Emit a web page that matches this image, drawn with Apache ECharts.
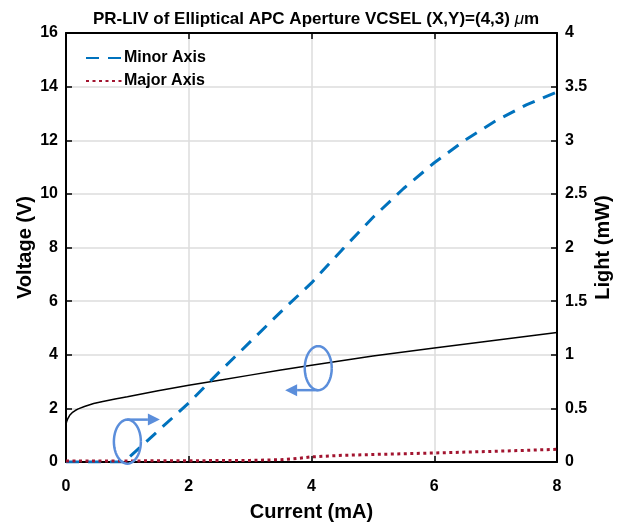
<!DOCTYPE html>
<html>
<head>
<meta charset="utf-8">
<script src="https://cdn.jsdelivr.net/npm/echarts@6/dist/echarts.min.js"></script>
<style>
  html, body { margin: 0; padding: 0; background: #fff; }
  #chart { width: 626px; height: 523px; }
</style>
</head>
<body>
<div id="chart"></div>
<script>
// voltage (left axis)
var ivCurrent = [0, 0.01, 0.03, 0.06, 0.1, 0.15, 0.2, 0.3, 0.45, 0.6, 0.8, 1, 1.5, 2, 2.5, 3, 3.5, 4, 5, 6, 7, 8];
var ivVoltage = [1.42, 1.5, 1.62, 1.74, 1.84, 1.92, 1.98, 2.07, 2.18, 2.26, 2.35, 2.43, 2.66, 2.86, 3.05, 3.24, 3.43, 3.61, 3.95, 4.25, 4.54, 4.83];

// light (right axis)
var minorCurrent = [0, 0.5, 0.92, 1, 1.5, 2, 2.5, 3, 3.5, 4, 4.5, 5, 5.5, 6, 6.5, 7, 7.5, 8];
var minorLight = [0, 0, 0, 0.03, 0.29, 0.55, 0.84, 1.12, 1.4, 1.67, 1.98, 2.28, 2.55, 2.79, 3.0, 3.18, 3.33, 3.45];
var majorCurrent = [0, 1, 2, 3, 3.5, 3.8, 4, 4.5, 5, 6, 7, 8];
var majorLight = [0.01, 0.01, 0.012, 0.015, 0.022, 0.035, 0.048, 0.062, 0.07, 0.084, 0.1, 0.118];

// annotation loops: [centre current, centre voltage, arrow tip current, side (1 = top, -1 = bottom)]
var loops = [[1.0, 0.76, 1.53, 1], [4.11, 3.5, 3.57, -1]];

function pairs(xs, ys) {
    var res = [];
    for (var i = 0; i < xs.length; i++) {
        res.push([xs[i], ys[i]]);
    }
    return res;
}

var font = "Liberation Sans, Arial, sans-serif";
var loopColor = "#5b8edb";

function renderLoop(params, api) {
    var c = api.coord([api.value(0), api.value(1)]);
    var tipX = api.coord([api.value(2), api.value(1)])[0];
    var side = api.value(3);
    var rx = 13.5, ry = 22;
    var pts = [];
    for (var k = 0; k <= 48; k++) {
        var a = k / 48 * Math.PI * 2;
        pts.push([c[0] + rx * Math.cos(a), c[1] + ry * Math.sin(a)]);
    }
    var ay = c[1] - side * ry;
    var dir = tipX > c[0] ? 1 : -1;
    var headLen = 12, headW = 6;
    return {
        type: "group",
        children: [
            { type: "polyline", shape: { points: pts }, style: { stroke: loopColor, lineWidth: 2.5, fill: null } },
            { type: "line", shape: { x1: c[0], y1: ay, x2: tipX - dir * headLen, y2: ay }, style: { stroke: loopColor, lineWidth: 2.5 } },
            { type: "polygon", shape: { points: [[tipX, ay], [tipX - dir * headLen, ay - headW], [tipX - dir * headLen, ay + headW]] }, style: { fill: loopColor } }
        ]
    };
}

var chart = echarts.init(document.getElementById("chart"));

var axisLabel = { color: "#000", fontWeight: "bold", fontSize: 16, fontFamily: font };
var nameStyle = { color: "#000", fontWeight: "bold", fontSize: 20, fontFamily: font };
var gridLine = { show: true, lineStyle: { color: "#dcdcdc", width: 1.5 } };
var boxLine = { show: true, onZero: false, lineStyle: { color: "#000", width: 2 } };
var tick = { inside: true, length: 6, lineStyle: { color: "#000", width: 1.5 } };

chart.setOption({
    animation: false,
    backgroundColor: "#fff",
    title: {
        text: "PR-LIV of Elliptical APC Aperture VCSEL (X,Y)=(4,3) {i|μ}m",
        left: 311,
        textAlign: "center",
        top: 6,
        textStyle: {
            color: "#000", fontWeight: "bold", fontSize: 17, fontFamily: font,
            rich: { i: { fontStyle: "italic", fontWeight: "normal", fontSize: 17, fontFamily: font } }
        }
    },
    legend: {
        orient: "vertical",
        left: 80,
        top: 45,
        itemWidth: 38,
        itemHeight: 10,
        itemGap: 7,
        data: ["Minor Axis", "Major Axis"],
        itemStyle: { opacity: 0 },
        textStyle: { color: "#000", fontWeight: "bold", fontSize: 16, fontFamily: font, padding: [0, 0, 0, -5] }
    },
    grid: { left: 66, right: 69, top: 33, bottom: 61, outerBoundsMode: "none", containLabel: false },
    xAxis: [
        {
            type: "value", min: 0, max: 8, interval: 2,
            name: "Current (mA)", nameLocation: "middle", nameGap: 40, nameTextStyle: nameStyle,
            axisLine: boxLine,
            axisTick: tick,
            axisLabel: Object.assign({ margin: 17 }, axisLabel),
            splitLine: gridLine
        },
        {
            type: "value", min: 0, max: 8, interval: 2, position: "top",
            axisLine: boxLine,
            axisTick: tick,
            axisLabel: { show: false },
            splitLine: { show: false }
        }
    ],
    yAxis: [
        {
            type: "value", min: 0, max: 16, interval: 2,
            name: "Voltage (V)", nameLocation: "middle", nameGap: 31, nameRotate: 90, nameMoveOverlap: false,
            nameTextStyle: nameStyle,
            axisLine: boxLine,
            axisTick: tick,
            axisLabel: Object.assign({ margin: 8 }, axisLabel),
            splitLine: gridLine
        },
        {
            type: "value", min: 0, max: 4, interval: 0.5, position: "right",
            name: "Light (mW)", nameLocation: "middle", nameGap: 36, nameRotate: 90, nameMoveOverlap: false,
            nameTextStyle: nameStyle,
            axisLine: boxLine,
            axisTick: tick,
            axisLabel: Object.assign({ margin: 8 }, axisLabel),
            splitLine: { show: false }
        }
    ],
    series: [
        {
            name: "Voltage",
            type: "line",
            yAxisIndex: 0,
            symbol: "none",
            lineStyle: { color: "#000", width: 1.5 },
            data: pairs(ivCurrent, ivVoltage)
        },
        {
            name: "Minor Axis",
            type: "line",
            yAxisIndex: 1,
            symbol: "none",
            color: "#0072bd",
            lineStyle: { color: "#0072bd", width: 3, type: [13, 9] },
            data: pairs(minorCurrent, minorLight)
        },
        {
            name: "Major Axis",
            type: "line",
            yAxisIndex: 1,
            symbol: "none",
            color: "#a2142f",
            lineStyle: { color: "#a2142f", width: 3, type: [3, 3.5] },
            data: pairs(majorCurrent, majorLight)
        },
        {
            type: "custom",
            yAxisIndex: 0,
            clip: false,
            silent: true,
            renderItem: renderLoop,
            data: loops,
            z: 5
        }
    ]
});
</script>
</body>
</html>
